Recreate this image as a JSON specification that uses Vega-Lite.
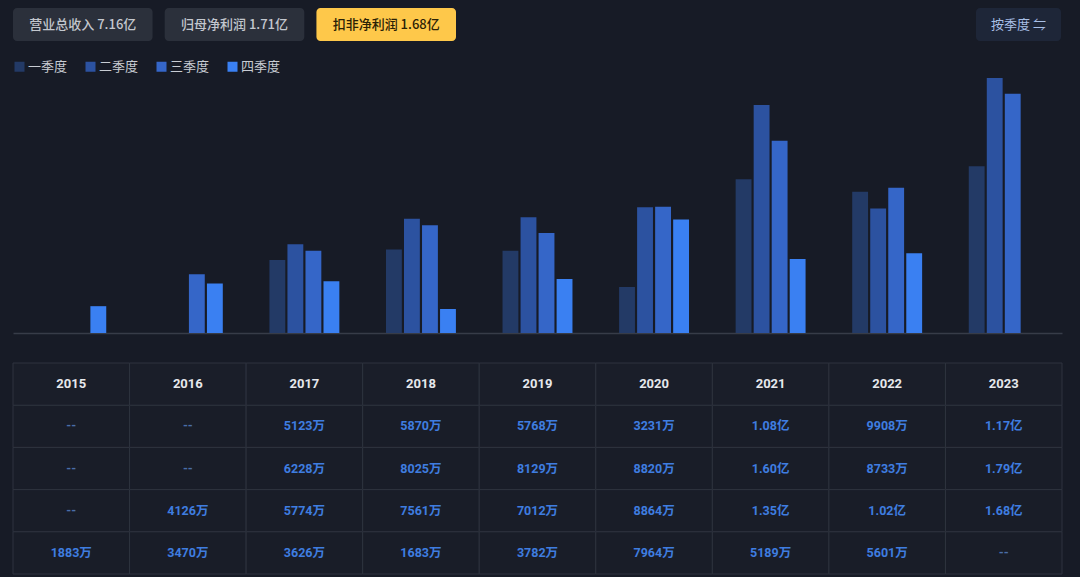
{
  "$schema": "https://vega.github.io/schema/vega-lite/v6.json",
  "background": "#171b26",
  "padding": {"left": 12, "top": 8, "right": 19, "bottom": 4},
  "autosize": {"type": "pad"},
  "bounds": "full",
  "spacing": 29,
  "config": {
    "view": {"stroke": null},
    "font": "Roboto, Noto Sans CJK SC, sans-serif"
  },
  "datasets": {
    "quarters": [
      {"year": "2015", "quarter": "一季度", "value": null, "label": "--"},
      {"year": "2015", "quarter": "二季度", "value": null, "label": "--"},
      {"year": "2015", "quarter": "三季度", "value": null, "label": "--"},
      {"year": "2015", "quarter": "四季度", "value": 1883, "label": "1883万"},
      {"year": "2016", "quarter": "一季度", "value": null, "label": "--"},
      {"year": "2016", "quarter": "二季度", "value": null, "label": "--"},
      {"year": "2016", "quarter": "三季度", "value": 4126, "label": "4126万"},
      {"year": "2016", "quarter": "四季度", "value": 3470, "label": "3470万"},
      {"year": "2017", "quarter": "一季度", "value": 5123, "label": "5123万"},
      {"year": "2017", "quarter": "二季度", "value": 6228, "label": "6228万"},
      {"year": "2017", "quarter": "三季度", "value": 5774, "label": "5774万"},
      {"year": "2017", "quarter": "四季度", "value": 3626, "label": "3626万"},
      {"year": "2018", "quarter": "一季度", "value": 5870, "label": "5870万"},
      {"year": "2018", "quarter": "二季度", "value": 8025, "label": "8025万"},
      {"year": "2018", "quarter": "三季度", "value": 7561, "label": "7561万"},
      {"year": "2018", "quarter": "四季度", "value": 1683, "label": "1683万"},
      {"year": "2019", "quarter": "一季度", "value": 5768, "label": "5768万"},
      {"year": "2019", "quarter": "二季度", "value": 8129, "label": "8129万"},
      {"year": "2019", "quarter": "三季度", "value": 7012, "label": "7012万"},
      {"year": "2019", "quarter": "四季度", "value": 3782, "label": "3782万"},
      {"year": "2020", "quarter": "一季度", "value": 3231, "label": "3231万"},
      {"year": "2020", "quarter": "二季度", "value": 8820, "label": "8820万"},
      {"year": "2020", "quarter": "三季度", "value": 8864, "label": "8864万"},
      {"year": "2020", "quarter": "四季度", "value": 7964, "label": "7964万"},
      {"year": "2021", "quarter": "一季度", "value": 10800, "label": "1.08亿"},
      {"year": "2021", "quarter": "二季度", "value": 16000, "label": "1.60亿"},
      {"year": "2021", "quarter": "三季度", "value": 13500, "label": "1.35亿"},
      {"year": "2021", "quarter": "四季度", "value": 5189, "label": "5189万"},
      {"year": "2022", "quarter": "一季度", "value": 9908, "label": "9908万"},
      {"year": "2022", "quarter": "二季度", "value": 8733, "label": "8733万"},
      {"year": "2022", "quarter": "三季度", "value": 10200, "label": "1.02亿"},
      {"year": "2022", "quarter": "四季度", "value": 5601, "label": "5601万"},
      {"year": "2023", "quarter": "一季度", "value": 11700, "label": "1.17亿"},
      {"year": "2023", "quarter": "二季度", "value": 17900, "label": "1.79亿"},
      {"year": "2023", "quarter": "三季度", "value": 16800, "label": "1.68亿"},
      {"year": "2023", "quarter": "四季度", "value": null, "label": "--"}
    ],
    "buttons": [
      {"name": "营业总收入 7.16亿", "active": false},
      {"name": "归母净利润 1.71亿", "active": false},
      {"name": "扣非净利润 1.68亿", "active": true}
    ],
    "toggle": [
      {"name": "按季度 ⇋"}
    ]
  },
  "vconcat": [
    {
      "bounds": "flush",
      "spacing": 520,
      "hconcat": [
        {
          "width": 443,
          "height": 33,
          "data": {"name": "buttons"},
          "encoding": {
            "x": {"field": "name", "type": "nominal", "sort": null, "axis": null,
                  "scale": {"paddingInner": 0.08, "paddingOuter": 0}}
          },
          "layer": [
            {
              "mark": {"type": "rect", "cornerRadius": 4},
              "encoding": {
                "fill": {"condition": {"test": "datum.active", "value": "#fec84a"}, "value": "#2b303b"}
              }
            },
            {
              "mark": {"type": "text", "fontSize": 13, "fontWeight": 500, "baseline": "middle", "font": "Noto Sans CJK SC"},
              "encoding": {
                "text": {"field": "name"},
                "color": {"condition": {"test": "datum.active", "value": "#2a2106"}, "value": "#c3c7ce"}
              }
            }
          ]
        },
        {
          "width": 85,
          "height": 33,
          "data": {"name": "toggle"},
          "encoding": {
            "x": {"field": "name", "type": "nominal", "axis": null, "scale": {"padding": 0}}
          },
          "layer": [
            {"mark": {"type": "rect", "cornerRadius": 4, "fill": "#1e2638"}},
            {"mark": {"type": "text", "fontSize": 13, "color": "#a8bfe6", "baseline": "middle", "font": "Noto Sans CJK SC"},
             "encoding": {"text": {"field": "name"}}}
          ]
        }
      ]
    },
    {
      "width": 1049,
      "height": 263,
      "data": {"name": "quarters"},
      "transform": [{"filter": "datum.value != null"}],
      "mark": {"type": "bar"},
      "encoding": {
        "x": {"field": "year", "type": "nominal", "title": null,
              "scale": {"domain": ["2015","2016","2017","2018","2019","2020","2021","2022","2023"], "paddingInner": 0.4, "paddingOuter": 0.2},
              "axis": {"labels": false, "ticks": false, "domainColor": "#373c48", "domainWidth": 1.5, "title": null}},
        "xOffset": {"field": "quarter", "type": "nominal",
              "scale": {"domain": ["一季度","二季度","三季度","四季度"], "paddingInner": 0.12, "paddingOuter": 0}},
        "y": {"field": "value", "type": "quantitative", "axis": null,
              "scale": {"domain": [0, 18462], "nice": false}},
        "color": {"field": "quarter", "type": "nominal",
              "scale": {"domain": ["一季度","二季度","三季度","四季度"], "range": ["#233a66", "#2c52a0", "#3566c8", "#3a80f2"]},
              "legend": {"orient": "none", "legendX": 0, "legendY": 52, "direction": "horizontal",
                         "title": null, "symbolType": "square", "symbolSize": 100, "symbolStrokeWidth": 0,
                         "labelColor": "#c8ccd3", "labelFontSize": 13, "labelFont": "Noto Sans CJK SC",
                         "columnPadding": 16, "labelOffset": 2}}
      }
    },
    {
      "width": 1049,
      "height": 211,
      "data": {"name": "quarters"},
      "encoding": {
        "x": {"field": "year", "type": "nominal", "axis": null,
              "scale": {"domain": ["2015","2016","2017","2018","2019","2020","2021","2022","2023"], "padding": 0}}
      },
      "layer": [
        {
          "mark": {"type": "rect", "fill": "#191d28", "stroke": "#2e333e", "strokeWidth": 1},
          "encoding": {
            "y": {"field": "quarter", "type": "nominal", "axis": null,
                  "scale": {"domain": ["header","一季度","二季度","三季度","四季度"], "padding": 0}}
          }
        },
        {
          "transform": [{"filter": "datum.quarter == '一季度'"}],
          "mark": {"type": "rect", "fill": "#1a1e29", "stroke": "#2e333e", "strokeWidth": 1},
          "encoding": {"y": {"datum": "header", "type": "nominal"}}
        },
        {
          "transform": [{"filter": "datum.quarter == '一季度'"}],
          "mark": {"type": "text", "fontSize": 13, "fontWeight": "bold", "color": "#e6e8ec", "baseline": "middle"},
          "encoding": {"y": {"datum": "header", "type": "nominal"}, "text": {"field": "year"}}
        },
        {
          "mark": {"type": "text", "fontSize": 12.5, "fontWeight": "bold", "baseline": "middle"},
          "encoding": {
            "y": {"field": "quarter", "type": "nominal"},
            "text": {"field": "label"},
            "color": {"condition": {"test": "datum.value == null", "value": "#4a6ea8"}, "value": "#3f7de0"}
          }
        }
      ]
    }
  ]
}
